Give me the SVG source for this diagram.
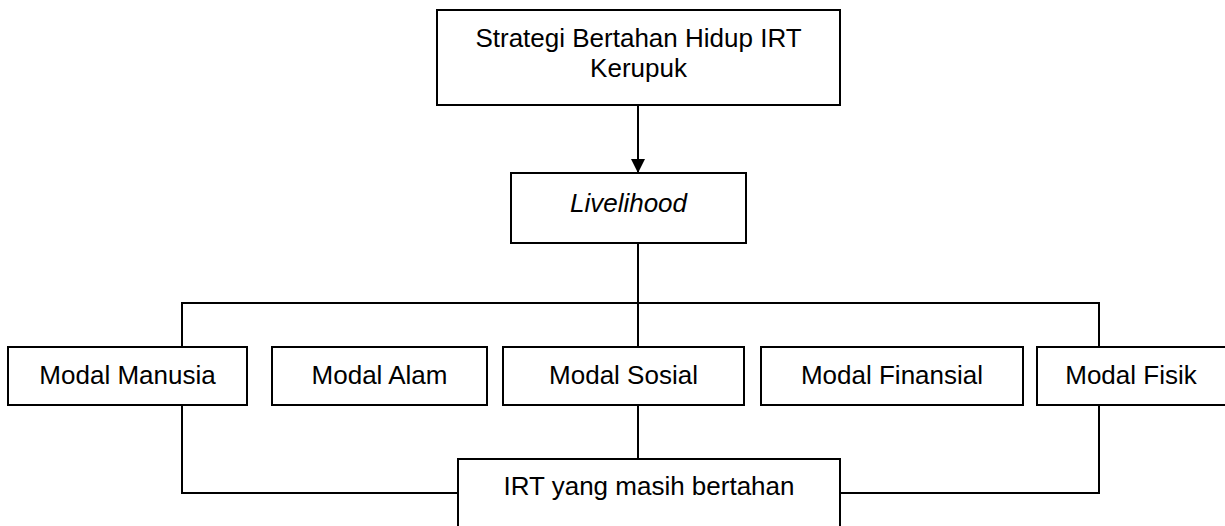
<svg xmlns="http://www.w3.org/2000/svg" width="1225" height="526" viewBox="0 0 1225 526">
<style>
.box{fill:#fff;stroke:#000;stroke-width:2}
.t{font-family:"Liberation Sans",Arial,sans-serif;font-size:26px;fill:#000;text-anchor:middle}
.c{fill:none;stroke:#000;stroke-width:2}
</style>
<defs>
<marker id="arr" viewBox="0 0 10 10" refX="10" refY="5" markerWidth="14" markerHeight="14" markerUnits="userSpaceOnUse" orient="auto">
<path d="M0,0 L10,5 L0,10 Z" fill="#000"/>
</marker>
</defs>
<rect width="1225" height="526" fill="#fff"/>
<g id="connectors">
<line class="c" x1="638" y1="105" x2="638" y2="173" stroke-width="2.5" marker-end="url(#arr)"/>
<path class="c" d="M638,243 V347"/>
<path class="c" d="M182,347 V303 H1099 V347"/>
<path class="c" d="M182,405 V493 H458"/>
<path class="c" d="M1099,405 V493 H840"/>
<path class="c" d="M638,405 V459"/>
</g>
<g id="strategi">
<rect class="box" x="437" y="10" width="403" height="95"/>
<text class="t" x="638.5" y="47">Strategi Bertahan Hidup IRT</text>
<text class="t" x="638.5" y="77">Kerupuk</text>
</g>
<g id="livelihood">
<rect class="box" x="511" y="173" width="235" height="70"/>
<text class="t" x="628.5" y="212" font-style="italic">Livelihood</text>
</g>
<g id="modal-manusia">
<rect class="box" x="8" y="347" width="239" height="58"/>
<text class="t" x="127.5" y="384">Modal Manusia</text>
</g>
<g id="modal-alam">
<rect class="box" x="272" y="347" width="215" height="58"/>
<text class="t" x="379.5" y="384">Modal Alam</text>
</g>
<g id="modal-sosial">
<rect class="box" x="503" y="347" width="241" height="58"/>
<text class="t" x="623.5" y="384">Modal Sosial</text>
</g>
<g id="modal-finansial">
<rect class="box" x="761" y="347" width="262" height="58"/>
<text class="t" x="892" y="384">Modal Finansial</text>
</g>
<g id="modal-fisik">
<rect class="box" x="1037" y="347" width="200" height="58"/>
<text class="t" x="1131" y="384">Modal Fisik</text>
</g>
<g id="irt">
<rect class="box" x="458" y="459" width="382" height="90"/>
<text class="t" x="649" y="495">IRT yang masih bertahan</text>
</g>
</svg>
